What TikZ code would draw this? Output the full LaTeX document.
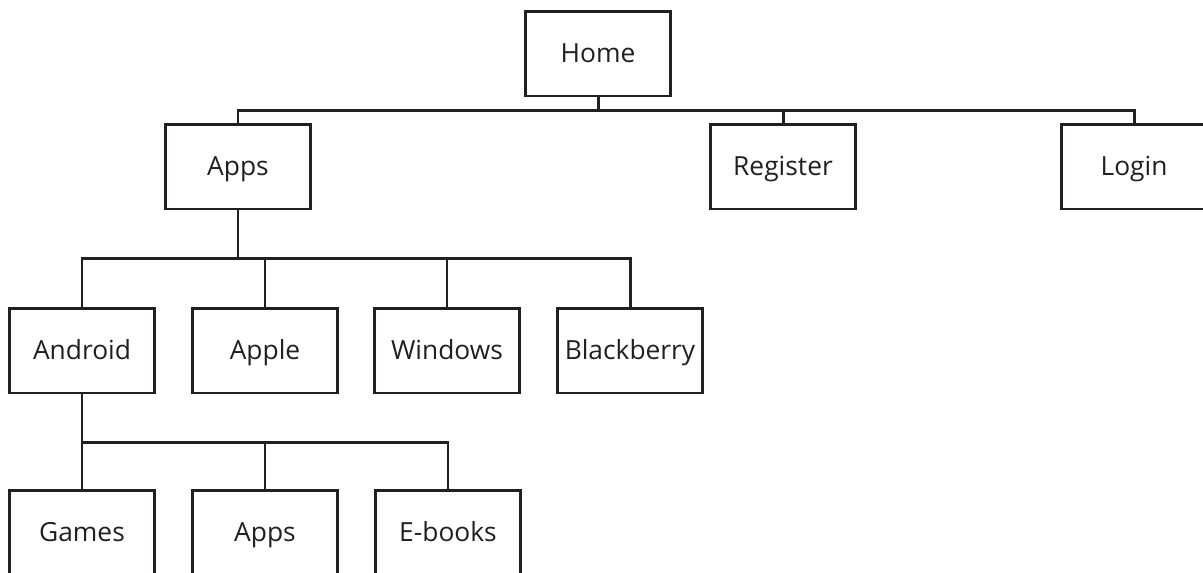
\documentclass[tikz,border=0pt]{standalone}
\usepackage{fontspec}
\setmainfont{Open Sans}
\usepackage{tikz}
\usepackage{xcolor}
\definecolor{ink}{HTML}{231F20}

\begin{document}
\begin{tikzpicture}[
  x=0.02cm, y=-0.02cm,
  pg/.style={draw=ink, line width=1.7pt, minimum width=2.9cm, minimum height=1.7cm,
    inner sep=0pt, outer sep=0pt, text height=10.7pt, text depth=0pt,
    text=ink, font=\fontsize{15}{18}\selectfont},
  ln/.style={draw=ink, line width=1.7pt}
]
\clip (0,0) rectangle (1203,572);
% site map
\node[pg] (home) at (598,53.5) {Home};
\node[pg] (apps) at (238,166.5) {Apps};
\node[pg] (reg) at (783,166.5) {Register};
\node[pg] (login) at (1134,166.5) {Login};
\node[pg] (andr) at (82,350.5) {Android};
\node[pg] (apple) at (265,350.5) {Apple};
\node[pg] (win) at (447,350.5) {Windows};
\node[pg] (bb) at (630,350.5) {Blackberry};
\node[pg] (games) at (82,532.5) {Games};
\node[pg] (apps2) at (265,532.5) {Apps};
\node[pg] (ebooks) at (448,532.5) {E-books};
% level 1
\draw[ln] (apps.north) -- ++(0,-14) -| (login.north);
\draw[ln] (home.south) -- ++(0,14);
\draw[ln] (reg.north) -- ++(0,-14);
% level 2
\draw[ln] (apps.south) -- ++(0,49);
\draw[ln] (andr.north) -- ++(0,-50) -| (bb.north);
\draw[ln] (apple.north) -- ++(0,-50);
\draw[ln] (win.north) -- ++(0,-50);
% level 3
\draw[ln] (andr.south) -- (games.north);
\draw[ln] (games.north) -- ++(0,-48) -| (ebooks.north);
\draw[ln] (apps2.north) -- ++(0,-48);
\end{tikzpicture}
\end{document}
